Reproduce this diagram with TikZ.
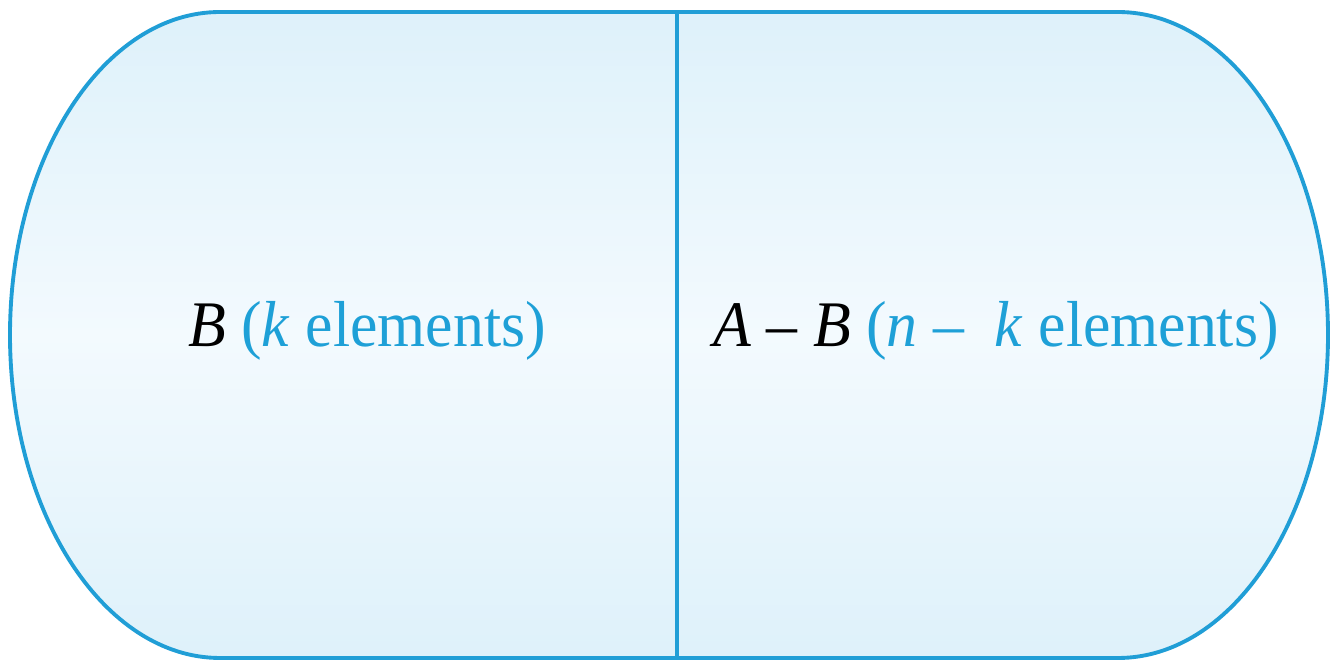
\documentclass[tikz,border=0pt]{standalone}
\usepackage{fontspec}
\setmainfont{Liberation Serif}
\newfontfamily\narrowserif[FakeStretch=0.95]{Liberation Serif}
\usepackage{xcolor}
\usetikzlibrary{positioning}
\definecolor{setblue}{RGB}{32,158,214}
\definecolor{textblue}{RGB}{30,160,215}
\definecolor{filledge}{RGB}{222,241,250}
\definecolor{fillmid}{RGB}{243,250,254}
\tikzset{
  set-region/.style={draw=setblue, line width=2.2pt,
    top color=filledge, bottom color=filledge, middle color=fillmid},
  split-line/.style={draw=setblue, line width=2.2pt},
  part-label/.style={font=\narrowserif\fontsize{37}{42}\selectfont, anchor=base,
    inner sep=0pt, text=textblue}
}
\begin{document}
\begin{tikzpicture}
\useasboundingbox (0,0) rectangle (26.6,13.22);
% The whole set A as a stadium shape
\path[set-region] (4.4,12.98) -- (22.36,12.98)
  arc[start angle=90, end angle=-90, x radius=4.2, y radius=6.46]
  -- (4.4,0.06)
  arc[start angle=270, end angle=90, x radius=4.2, y radius=6.46] -- cycle;

% Divider between B and A - B
\coordinate (divtop) at (13.54,12.98);
\coordinate (divbot) at (13.54,0.06);
\draw[split-line] (divtop) -- (divbot);

% Labels of the two parts
\node[part-label] (lefttext) at (7.34,6.28)
  {\textcolor{black}{\textit{B}} (\textit{k} elements)};
\node[part-label] (righttext) at (19.92,6.28)
  {\textcolor{black}{\textit{A} \textendash{} \textit{B}} (\textit{n} \textendash{}\ \ \textit{k} elements)};
\end{tikzpicture}
\end{document}
